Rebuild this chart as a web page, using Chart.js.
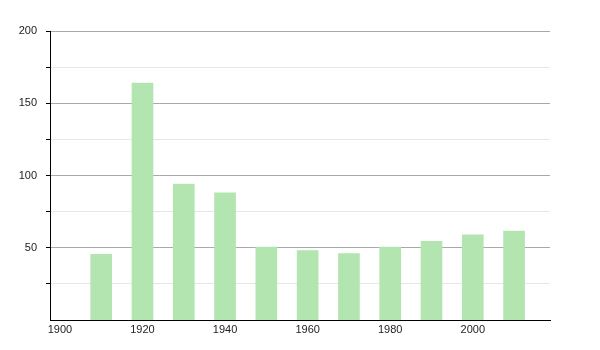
<!DOCTYPE html>
<html>
<head>
<meta charset="utf-8">
<script src="https://cdn.jsdelivr.net/npm/chart.js@4"></script>
<style>
  body { margin: 0; background: #fff; }
  #wrap { width: 600px; height: 350px; }
</style>
</head>
<body>
<div id="wrap"><canvas id="myChart" width="600" height="350"></canvas></div>
<script>
const years = [1910, 1920, 1930, 1940, 1950, 1960, 1970, 1980, 1990, 2000, 2010];
const values = [45.5, 164, 94, 88, 50.5, 48, 46, 50.5, 54.5, 59, 61.6];
const xTicks = [1900, 1920, 1940, 1960, 1980, 2000];
const yTicks = [25, 50, 75, 100, 125, 150, 175, 200];

const ctx = document.getElementById("myChart").getContext("2d");

new Chart(ctx, {
  type: "bar",
  data: {
    datasets: [
      {
        data: years.map((y, i) => ({ x: y, y: values[i] })),
        backgroundColor: "#b3e5b1",
        borderWidth: 0,
        barThickness: 21,
      },
    ],
  },
  options: {
    responsive: false,
    animation: false,
    layout: { padding: { left: 0, right: 50, top: 31, bottom: 0 } },
    plugins: {
      legend: { display: false },
      tooltip: { enabled: false },
    },
    scales: {
      x: {
        type: "linear",
        offset: false,
        min: 1897.6,
        max: 2018.7,
        afterBuildTicks: (scale) => {
          scale.ticks = xTicks.map((v) => ({ value: v }));
        },
        afterFit: (scale) => {
          scale.height = 30;
        },
        grid: { display: false, drawTicks: false },
        border: { display: true, color: "#000", width: 1 },
        ticks: {
          padding: 3,
          color: "#222",
          font: { family: "Liberation Sans", size: 11 },
          maxRotation: 0,
          callback: (v) => String(v),
        },
      },
      y: {
        min: 0,
        max: 200,
        afterBuildTicks: (scale) => {
          scale.ticks = yTicks.map((v) => ({ value: v }));
        },
        afterFit: (scale) => {
          scale.width = 50;
        },
        border: { display: true, color: "#000", width: 1 },
        grid: {
          drawTicks: true,
          tickLength: 4,
          color: (c) => (c.tick && c.tick.value % 50 === 0 ? "#aaaaaa" : "#e6e6e6"),
          tickColor: "#000",
        },
        ticks: {
          padding: 9,
          color: "#222",
          font: { family: "Liberation Sans", size: 11 },
          callback: (v) => (v % 50 === 0 ? String(v) : ""),
        },
      },
    },
  },
});
</script>
</body>
</html>
